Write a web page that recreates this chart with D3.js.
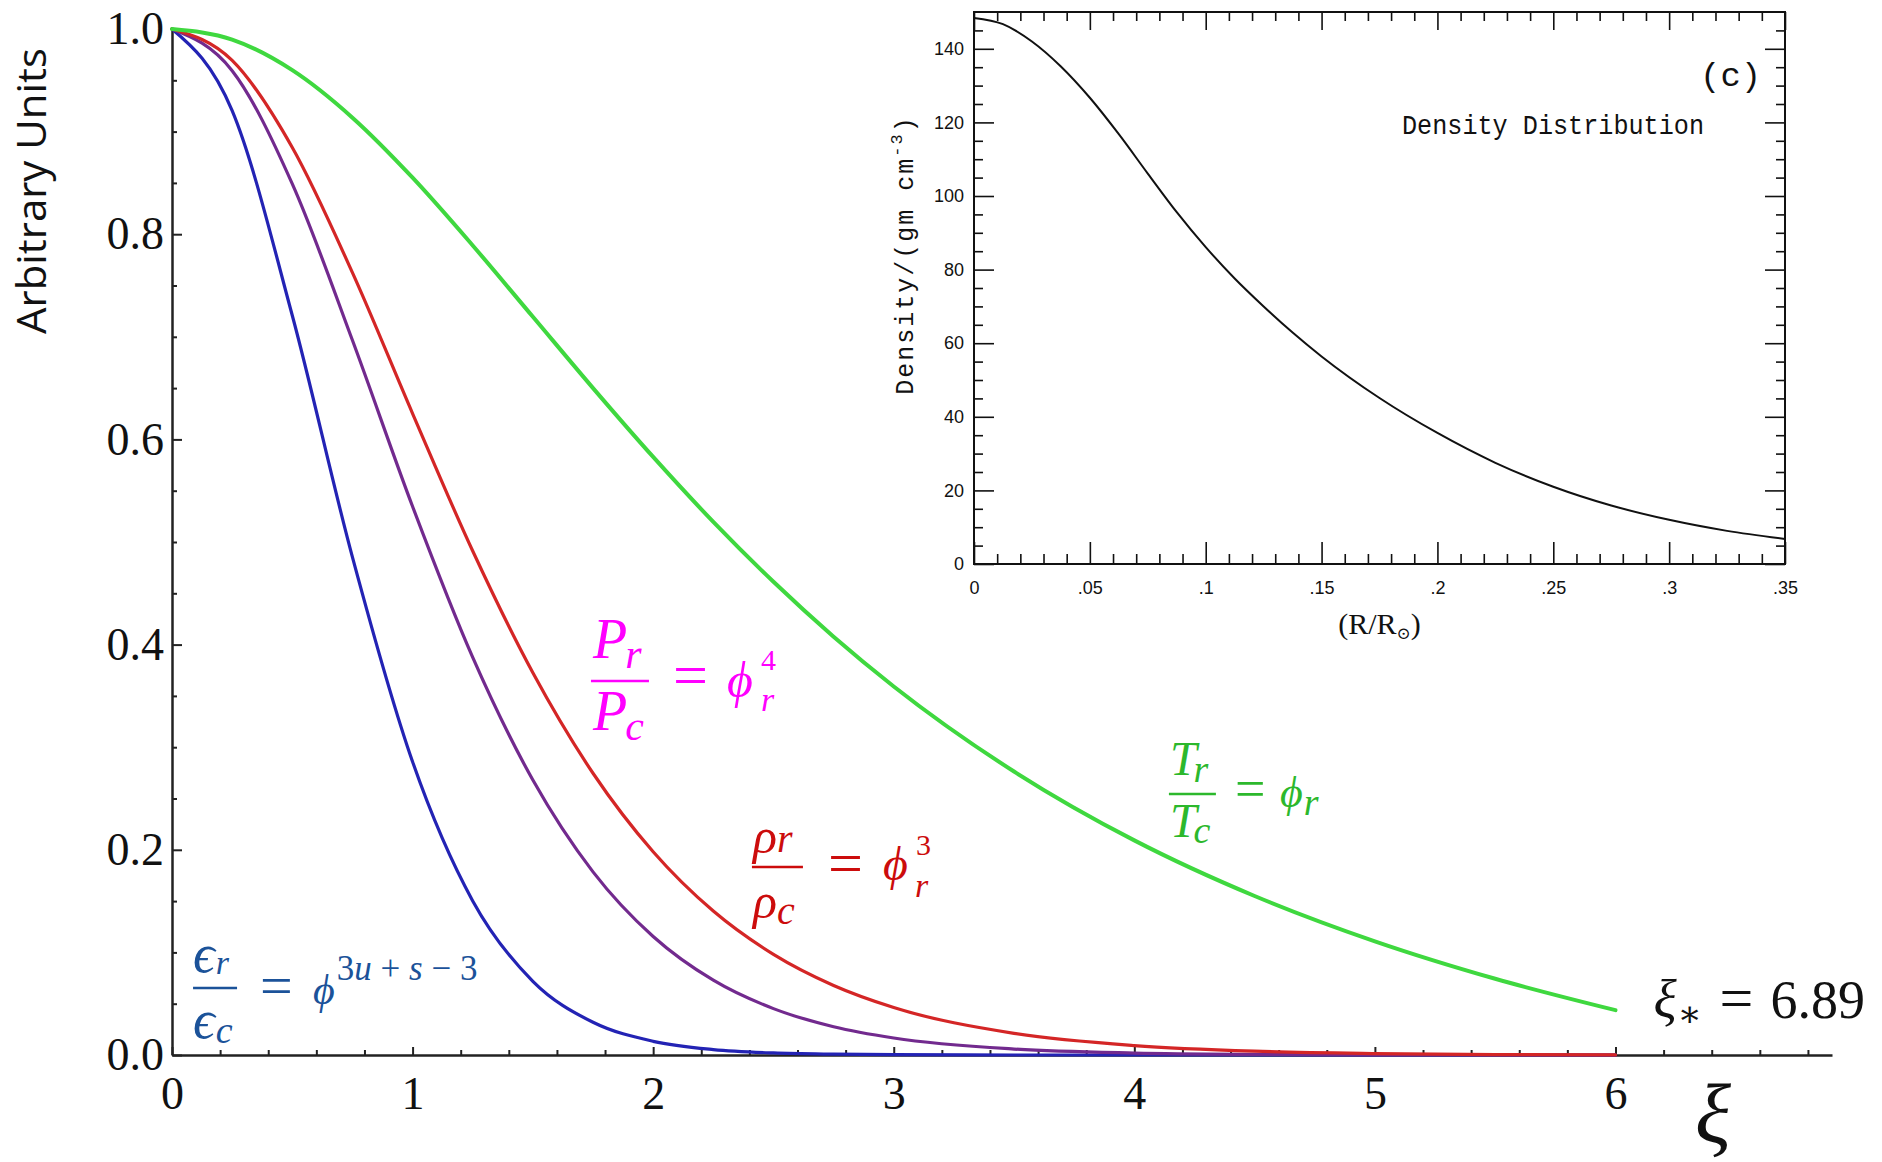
<!DOCTYPE html>
<html>
<head>
<meta charset="utf-8">
<script src="https://cdn.jsdelivr.net/npm/d3@7"></script>
<style>
  html, body { margin: 0; padding: 0; background: #fff; }
  svg { display: block; }
</style>
</head>
<body>
<svg id="chart" width="1882" height="1162"></svg>
<script>
// ---- Lane–Emden (n = 3) profiles versus dimensionless radius xi ----
const xi          = [0, 0.25, 0.5, 0.75, 1.0, 1.25, 1.5, 1.75, 2.0, 2.25, 2.5, 2.75, 3.0, 3.5, 4.0, 4.5, 5.0, 5.5, 6.0];
const temperature = [1.0, 0.9897, 0.9599, 0.9136, 0.8551, 0.7890, 0.7195, 0.6500, 0.5829, 0.5196, 0.4612, 0.4077, 0.3592, 0.2763, 0.2092, 0.1550, 0.1108, 0.0743, 0.0437];
const density     = [1.0, 0.9694, 0.8845, 0.7625, 0.6252, 0.4912, 0.3725, 0.2746, 0.1981, 0.1403, 0.0981, 0.0678, 0.0463, 0.0211, 0.0092, 0.0037, 0.0014, 0.0004, 0.0001];
const pressure    = [1.0, 0.9594, 0.8490, 0.6966, 0.5346, 0.3875, 0.2680, 0.1785, 0.1155, 0.0729, 0.0452, 0.0276, 0.0166, 0.0058, 0.0019, 0.0006, 0.0002, 0.0000, 0.0000];
const energy      = [1.0, 0.9204, 0.7208, 0.4853, 0.2858, 0.1502, 0.0718, 0.0319, 0.0133, 0.0053, 0.0020, 0.0008, 0.0003, 0.0000, 0.0000, 0.0000, 0.0000, 0.0000, 0.0000];
const xTicks = [0, 1, 2, 3, 4, 5, 6];
const yTicks = [0, 0.2, 0.4, 0.6, 0.8, 1.0];
const xiSurface = 6.89;

// ---- Solar density profile (inset) ----
const radius       = [0, 0.0125, 0.025, 0.0375, 0.05, 0.0625, 0.075, 0.0875, 0.1, 0.1125, 0.125, 0.1375, 0.15, 0.175, 0.2, 0.225, 0.25, 0.275, 0.3, 0.325, 0.35];
const solarDensity = [148.4, 146.7, 142.0, 135.2, 126.7, 116.8, 106.1, 95.6, 86.1, 77.6, 70.0, 62.9, 56.4, 45.1, 35.6, 27.5, 21.0, 15.9, 12.0, 9.0, 6.8];
const insetXTicks  = [0, 0.05, 0.1, 0.15, 0.2, 0.25, 0.3, 0.35];
const insetXLabels = ["0", ".05", ".1", ".15", ".2", ".25", ".3", ".35"];
const insetYTicks  = [0, 20, 40, 60, 80, 100, 120, 140];

const SERIF = "'Liberation Serif', 'DejaVu Serif', serif";
const MONO = "'Liberation Mono', 'DejaVu Sans Mono', monospace";
const svg = d3.select("#chart");

// ================= main panel =================
const x = d3.scaleLinear().domain([0, 6.9]).range([172, 1832]);
const y = d3.scaleLinear().domain([0, 1]).range([1055, 29]);

function styleAxis(g, size) {
  g.attr("font-family", SERIF).attr("font-size", size);
  g.selectAll("path.domain").attr("stroke", "#222").attr("stroke-width", 2.5);
  g.selectAll(".tick line").attr("stroke", "#222").attr("stroke-width", 2);
  g.selectAll(".tick text").attr("fill", "#111");
}

// minor ticks first so the major ones sit on top
const yMinor = y.ticks(20).filter(v => Math.abs(v * 5 - Math.round(v * 5)) > 1e-6);
svg.append("g").attr("transform", `translate(${x(0)},0)`)
  .call(d3.axisLeft(y).tickValues(yMinor).tickFormat("").tickSizeInner(-5).tickSizeOuter(0))
  .call(g => g.select(".domain").remove())
  .call(g => g.selectAll(".tick line").attr("stroke", "#222").attr("stroke-width", 2));

const xMinor = d3.range(0, 35).map(i => i * 0.2).filter(v => Math.abs(v - Math.round(v)) > 1e-6);
svg.append("g").attr("transform", `translate(0,${y(0)})`)
  .call(d3.axisBottom(x).tickValues(xMinor).tickFormat("").tickSizeInner(-5).tickSizeOuter(0))
  .call(g => g.select(".domain").remove())
  .call(g => g.selectAll(".tick line").attr("stroke", "#222").attr("stroke-width", 2));

const gy = svg.append("g").attr("transform", `translate(${x(0)},0)`)
  .call(d3.axisLeft(y).tickValues(yTicks).tickFormat(d3.format(".1f"))
        .tickSizeInner(-10).tickSizeOuter(0).tickPadding(8));
styleAxis(gy, 46);

const gx = svg.append("g").attr("transform", `translate(0,${y(0)})`)
  .call(d3.axisBottom(x).tickValues(xTicks).tickFormat(d3.format("d"))
        .tickSizeInner(-8).tickSizeOuter(0).tickPadding(21));
styleAxis(gx, 46);

// curves
const series = [
  { values: energy,      color: "#2323b4", width: 3.2 },
  { values: pressure,    color: "#722a8e", width: 3.2 },
  { values: density,     color: "#d42626", width: 3.2 },
  { values: temperature, color: "#3fd83f", width: 4 }
];
const lineGen = d3.line().x((d, i) => x(xi[i])).y(d => y(d)).curve(d3.curveMonotoneX);
svg.append("g").selectAll("path").data(series).join("path")
  .attr("d", s => lineGen(s.values))
  .attr("fill", "none")
  .attr("stroke", s => s.color)
  .attr("stroke-width", s => s.width)
  .attr("stroke-linejoin", "round")
  .attr("stroke-linecap", "round");

// y axis title
svg.append("text")
  .attr("transform", `translate(46,${(48 + 334) / 2}) rotate(-90)`)
  .attr("text-anchor", "middle")
  .attr("font-family", "'Open Sans', Lato, sans-serif")
  .attr("font-size", 40)
  .attr("textLength", 286)
  .attr("lengthAdjust", "spacingAndGlyphs")
  .attr("fill", "#111")
  .text("Arbitrary Units");

// x axis symbol
svg.append("text")
  .attr("x", x(6.405)).attr("y", 1142)
  .attr("text-anchor", "middle")
  .attr("font-family", SERIF).attr("font-style", "italic").attr("font-size", 84)
  .attr("fill", "#111")
  .text("ξ");

// ---- math helper: one <text> per term, parts = [text, size, italic, dx, dy] ----
function term(g, tx, ty, parts) {
  const t = g.append("text").attr("x", tx).attr("y", ty);
  parts.forEach(p => {
    const s = t.append("tspan")
      .attr("font-size", p[1])
      .attr("font-style", p[2] ? "italic" : "normal")
      .text(p[0]);
    if (p[3]) s.attr("dx", p[3]);
    if (p[4]) s.attr("dy", p[4]);
  });
  return t;
}

// surface marker next to the end of the temperature curve
(function () {
  const g = svg.append("g").attr("transform", `translate(${x(6) + 38},1018)`)
    .attr("font-family", SERIF).attr("fill", "#111");
  term(g, 0, 0, [["ξ", 54, 1], ["∗", 36, 0, 1, 8]]);
  term(g, 66, 0, [["=", 60, 0]]);
  term(g, 117, 0, [[xiSurface.toFixed(2), 54, 0]]);
})();

// equation: fraction bar at (ax, ay); terms laid out relative to it
function equation(ax, ay, color, barLen, terms) {
  const g = svg.append("g").attr("transform", `translate(${ax},${ay})`)
    .attr("font-family", SERIF).attr("fill", color);
  g.append("line").attr("x1", 0).attr("x2", barLen).attr("y1", 0).attr("y2", 0)
    .attr("stroke", color).attr("stroke-width", 2.4);
  terms.forEach(tm => term(g, tm[0], tm[1], tm[2]));
}

// energy generation
equation(x(0.0875), y(0.0653), "#1b5299", 44, [
  [0, -16, [["ϵ", 54, 1], ["r", 34, 1, 1, 2]]],
  [0, 50,  [["ϵ", 54, 1], ["c", 38, 1, 1, 5]]],
  [67, 17, [["=", 58, 0]]],
  [120, 16, [["ϕ", 42, 1], ["3", 35, 0, 2, -24], ["u", 35, 1], [" + ", 35, 0], ["s", 35, 1], [" − ", 35, 0], ["3", 35, 0]]]
]);

// pressure
equation(x(1.7415), y(0.3645), "#ff00ff", 58, [
  [2, -23, [["P", 56, 1], ["r", 42, 1, -2, 10]]],
  [2, 49,  [["P", 56, 1], ["c", 42, 1, -2, 10]]],
  [82, 15, [["=", 62, 0]]],
  [136, 16, [["ϕ", 50, 1]]],
  [170, -11, [["4", 30, 0]]],
  [170, 30, [["r", 34, 1]]]
]);

// density
equation(x(2.4106), y(0.1832), "#cc0c0c", 51, [
  [1, -14, [["ρ", 50, 1], ["r", 40, 1, 0, -1]]],
  [1, 51,  [["ρ", 50, 1], ["c", 40, 1, 0, 6]]],
  [76, 17, [["=", 62, 0]]],
  [131, 13, [["ϕ", 48, 1]]],
  [164, -12, [["3", 30, 0]]],
  [163, 30, [["r", 34, 1]]]
]);

// temperature
equation(x(4.1438), y(0.2544), "#2cb82c", 47, [
  [1, -19, [["T", 48, 1], ["r", 38, 1, -3, 7]]],
  [1, 43,  [["T", 48, 1], ["c", 38, 1, -3, 6]]],
  [66, 13, [["=", 54, 0]]],
  [111, 13, [["ϕ", 44, 1], ["r", 38, 1, 1, 8]]]
]);

// ================= inset: solar density =================
const ix = d3.scaleLinear().domain([0, 0.35]).range([974, 1785]);
const iy = d3.scaleLinear().domain([0, 150]).range([564, 12]);
const inset = svg.append("g");
const INK = "#111";

inset.append("rect")
  .attr("x", ix(0)).attr("y", iy(150))
  .attr("width", ix(0.35) - ix(0)).attr("height", iy(0) - iy(150))
  .attr("fill", "#fff").attr("stroke", INK).attr("stroke-width", 2);

const iyMinor = d3.range(0, 151, 5).filter(v => v % 20 !== 0 && v < 150);
const ixMinor = d3.range(0, 36).map(i => i / 100).filter(v => Math.abs(v * 20 - Math.round(v * 20)) > 1e-6);

function tickGroup(axis, tx, ty) {
  return inset.append("g").attr("transform", `translate(${tx},${ty})`)
    .call(axis)
    .call(g => g.select(".domain").remove())
    .call(g => g.selectAll(".tick line").attr("stroke", INK).attr("stroke-width", 1.6));
}
// left / right borders
tickGroup(d3.axisLeft(iy).tickValues(iyMinor).tickFormat("").tickSizeInner(-9).tickSizeOuter(0), ix(0), 0);
tickGroup(d3.axisRight(iy).tickValues(iyMinor).tickFormat("").tickSizeInner(-9).tickSizeOuter(0), ix(0.35), 0);
tickGroup(d3.axisRight(iy).tickValues(insetYTicks).tickFormat("").tickSizeInner(-20).tickSizeOuter(0), ix(0.35), 0);
const giy = tickGroup(d3.axisLeft(iy).tickValues(insetYTicks).tickFormat(d3.format("d"))
  .tickSizeInner(-20).tickSizeOuter(0).tickPadding(10), ix(0), 0);
// bottom / top borders
tickGroup(d3.axisBottom(ix).tickValues(ixMinor).tickFormat("").tickSizeInner(-10).tickSizeOuter(0), 0, iy(0));
tickGroup(d3.axisTop(ix).tickValues(ixMinor).tickFormat("").tickSizeInner(-9).tickSizeOuter(0), 0, iy(150));
tickGroup(d3.axisTop(ix).tickValues(insetXTicks).tickFormat("").tickSizeInner(-18).tickSizeOuter(0), 0, iy(150));
const gix = tickGroup(d3.axisBottom(ix).tickValues(insetXTicks).tickFormat((d, i) => insetXLabels[i])
  .tickSizeInner(-22).tickSizeOuter(0).tickPadding(17), 0, iy(0));

[giy, gix].forEach(g => g.attr("font-family", "'Liberation Sans', Arial, sans-serif")
  .attr("font-size", 18).selectAll("text").attr("fill", INK));

// density curve
inset.append("path")
  .attr("d", d3.line().x((d, i) => ix(radius[i])).y(d => iy(d)).curve(d3.curveMonotoneX)(solarDensity))
  .attr("fill", "none").attr("stroke", INK).attr("stroke-width", 2);

// inset texts
inset.append("text")
  .attr("x", 1402).attr("y", 134)
  .attr("font-family", MONO)
  .attr("font-size", 27).attr("textLength", 302).attr("lengthAdjust", "spacingAndGlyphs")
  .attr("fill", INK).text("Density Distribution");

inset.append("text")
  .attr("x", 1700).attr("y", 86)
  .attr("font-family", MONO)
  .attr("font-size", 34).attr("fill", INK).text("(c)");

const xl = inset.append("text")
  .attr("x", (ix(0) + ix(0.35)) / 2).attr("y", 634)
  .attr("text-anchor", "middle")
  .attr("font-family", SERIF).attr("font-size", 30).attr("fill", INK);
xl.append("tspan").text("(R/R");
xl.append("tspan").attr("font-size", 17).attr("dy", 5).text("⊙");
xl.append("tspan").attr("dy", -5).text(")");

const yl = inset.append("text")
  .attr("transform", `translate(913,${(114 + 396) / 2}) rotate(-90)`)
  .attr("text-anchor", "middle")
  .attr("font-family", MONO)
  .attr("font-size", 25).attr("letter-spacing", 2).attr("fill", INK);
yl.append("tspan").text("Density/(gm  cm");
yl.append("tspan").attr("font-size", 17).attr("dy", -11).text("-3");
yl.append("tspan").attr("dy", 11).text(")");
</script>
</body>
</html>
